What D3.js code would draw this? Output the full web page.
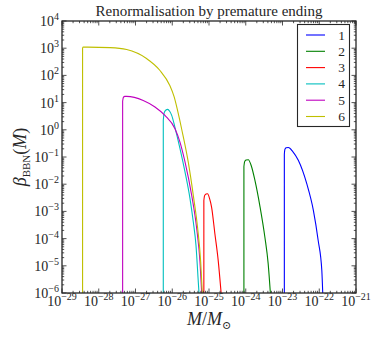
<!DOCTYPE html>
<html><head><meta charset="utf-8">
<script src="https://cdn.jsdelivr.net/npm/d3@7"></script>
<style>
body{margin:0;background:#fff;}
</style></head>
<body><svg id="c" width="380" height="337" font-family="'Liberation Serif', 'DejaVu Serif', serif"></svg>
<script>
// ---- data (log10 values) ----
const seriesNames = ["1","2","3","4","5","6"];
const seriesColors = ["#0000ff","#008000","#ff0000","#00bfbf","#bf00bf","#bfbf00"];
const s1LogM    = [-22.95,-22.95,-22.935,-22.90,-22.84,-22.72,-22.57,-22.34,-22.16,-22.03,-21.93,-21.905];
const s1LogBeta = [-6,-0.9,-0.72,-0.66,-0.65,-0.80,-1.12,-1.98,-2.96,-4.06,-5.17,-6];
const s2LogM    = [-24.05,-24.05,-24.03,-23.99,-23.93,-23.85,-23.75,-23.61,-23.48,-23.39,-23.33];
const s2LogBeta = [-6,-1.35,-1.17,-1.11,-1.10,-1.32,-1.86,-2.84,-3.94,-4.92,-6];
const s3LogM    = [-25.14,-25.14,-25.12,-25.08,-25.04,-24.98,-24.93,-24.84,-24.75,-24.67];
const s3LogBeta = [-6,-2.6,-2.42,-2.36,-2.35,-2.55,-2.84,-3.82,-4.80,-6];
const s4LogM    = [-26.244,-26.244,-26.22,-26.18,-26.124,-26.07,-26.015,-25.925,-25.789,-25.653,-25.517,-25.427,-25.354,-25.291,-25.272];
const s4LogBeta = [-6,0.35,0.62,0.72,0.75,0.68,0.53,0.08,-0.69,-1.55,-2.53,-3.39,-4.25,-5.6,-6];
const s5LogM    = [-27.35,-27.35,-27.33,-27.29,-27.24,-26.79,-26.47,-26.20,-25.925,-25.79,-25.653,-25.471,-25.335,-25.245,-25.199];
const s5LogBeta = [-6,1.05,1.19,1.23,1.23,1.08,0.84,0.53,0.04,-0.45,-1.18,-2.41,-3.63,-4.86,-6];
const s6LogM    = [-28.44,-28.44,-28.43,-28.30,-27.69,-27.24,-26.70,-26.34,-26.07,-25.95,-25.87,-25.80,-25.743,-25.563,-25.427,-25.308,-25.226,-25.182];
const s6LogBeta = [-6,3.0,3.04,3.04,3.02,2.95,2.62,2.19,1.64,1.22,0.80,0.38,0.02,-1.2,-2.41,-3.63,-4.86,-6];
const xTickExps = [-29,-28,-27,-26,-25,-24,-23,-22,-21];
const yTickExps = [4,3,2,1,0,-1,-2,-3,-4,-5,-6];
const titleText = "Renormalisation by premature ending";

const seriesLogM = [s1LogM,s2LogM,s3LogM,s4LogM,s5LogM,s6LogM];
const seriesLogBeta = [s1LogBeta,s2LogBeta,s3LogBeta,s4LogBeta,s5LogBeta,s6LogBeta];

// ---- layout ----
const L=62, R=356, T=21, B=293;
const svg = d3.select("#c");
const x = d3.scaleLog().domain([1e-29,1e-21]).range([L,R]);
const y = d3.scaleLog().domain([1e-6,1e4]).range([B,T]);
const ink = "#262626";

svg.append("defs").append("clipPath").attr("id","clip")
  .append("rect").attr("x",L).attr("y",T).attr("width",R-L).attr("height",B-T);

// curves
const line = d3.line().x(d=>x(d[0])).y(d=>y(d[1])).curve(d3.curveMonotoneX);
const g = svg.append("g").attr("clip-path","url(#clip)");
seriesLogM.forEach((lm,i)=>{
  const pts = lm.map((v,j)=>[Math.pow(10,v), Math.pow(10,seriesLogBeta[i][j])]);
  const start = pts[0];
  const rest = pts.slice(1);
  const d = "M"+x(start[0])+","+y(start[1])+line(rest).replace(/^M/,"L");
  g.append("path").attr("d",d).attr("fill","none")
   .attr("stroke",seriesColors[i]).attr("stroke-width",1.1);
});

// frame
svg.append("rect").attr("x",L).attr("y",T).attr("width",R-L).attr("height",B-T)
  .attr("fill","none").attr("stroke",ink).attr("stroke-width",1.3);

// ticks
const tk = svg.append("g").attr("stroke",ink).attr("stroke-width",0.8);
xTickExps.forEach((e,i)=>{
  const px = x(Math.pow(10,e));
  tk.append("line").attr("x1",px).attr("x2",px).attr("y1",B).attr("y2",B-4.5);
  tk.append("line").attr("x1",px).attr("x2",px).attr("y1",T).attr("y2",T+4.5);
  if(i<xTickExps.length-1){
    for(let m=2;m<=9;m++){
      const mx = x(m*Math.pow(10,e));
      tk.append("line").attr("x1",mx).attr("x2",mx).attr("y1",B).attr("y2",B-2.2);
      tk.append("line").attr("x1",mx).attr("x2",mx).attr("y1",T).attr("y2",T+2.2);
    }
  }
});
yTickExps.forEach((e,i)=>{
  const py = y(Math.pow(10,e));
  tk.append("line").attr("x1",L).attr("x2",L+4.5).attr("y1",py).attr("y2",py);
  tk.append("line").attr("x1",R).attr("x2",R-4.5).attr("y1",py).attr("y2",py);
  if(e>-6){
    for(let m=2;m<=9;m++){
      const my = y(m*Math.pow(10,e-1));
      tk.append("line").attr("x1",L).attr("x2",L+2.2).attr("y1",my).attr("y2",my);
      tk.append("line").attr("x1",R).attr("x2",R-2.2).attr("y1",my).attr("y2",my);
    }
  }
});

// tick labels
function expLabel(sel, e){
  sel.append("tspan").text("10");
  sel.append("tspan").attr("dy",-6).attr("font-size",10).text(e<0?"\u2212"+(-e):String(e));
}
xTickExps.forEach(e=>{
  const t = svg.append("text").attr("x",x(Math.pow(10,e))).attr("y",B+12.5)
    .attr("text-anchor","middle").attr("font-size",14).attr("fill",ink);
  expLabel(t,e);
});
yTickExps.forEach(e=>{
  const t = svg.append("text").attr("x",L-3).attr("y",y(Math.pow(10,e))+5)
    .attr("text-anchor","end").attr("font-size",14).attr("fill",ink);
  expLabel(t,e);
});

// title
svg.append("text").attr("x",209).attr("y",16).attr("text-anchor","middle")
  .attr("font-size",15).attr("fill",ink).text(titleText);

// axis labels
const xl = svg.append("text").attr("x",(L+R)/2).attr("y",325).attr("text-anchor","middle")
  .attr("font-size",18).attr("fill",ink);
xl.append("tspan").attr("font-style","italic").text("M");
xl.append("tspan").text("/");
xl.append("tspan").attr("font-style","italic").text("M");
xl.append("tspan").attr("dy",4).attr("font-size",11).text("\u2299");

const yl = svg.append("text").attr("transform",`translate(26,${(T+B)/2}) rotate(-90)`)
  .attr("text-anchor","middle").attr("font-size",18).attr("fill",ink);
yl.append("tspan").attr("font-style","italic").text("\u03B2");
yl.append("tspan").attr("dy",4).attr("font-size",11).text("BBN");
yl.append("tspan").attr("dy",-4).text("(");
yl.append("tspan").attr("font-style","italic").text("M");
yl.append("tspan").text(")");

// legend
const lg = svg.append("g");
lg.append("rect").attr("x",297.5).attr("y",24.5).attr("width",52).attr("height",102)
  .attr("fill","#fff").attr("stroke",ink).attr("stroke-width",1.1);
seriesNames.forEach((n,i)=>{
  const ly = 35 + i*16.3;
  lg.append("line").attr("x1",306).attr("x2",325).attr("y1",ly).attr("y2",ly)
    .attr("stroke",seriesColors[i]).attr("stroke-width",1.1);
  lg.append("text").attr("x",341.5).attr("y",ly+4.5).attr("text-anchor","middle")
    .attr("font-size",13.5).attr("fill",ink).text(n);
});
</script></body></html>
